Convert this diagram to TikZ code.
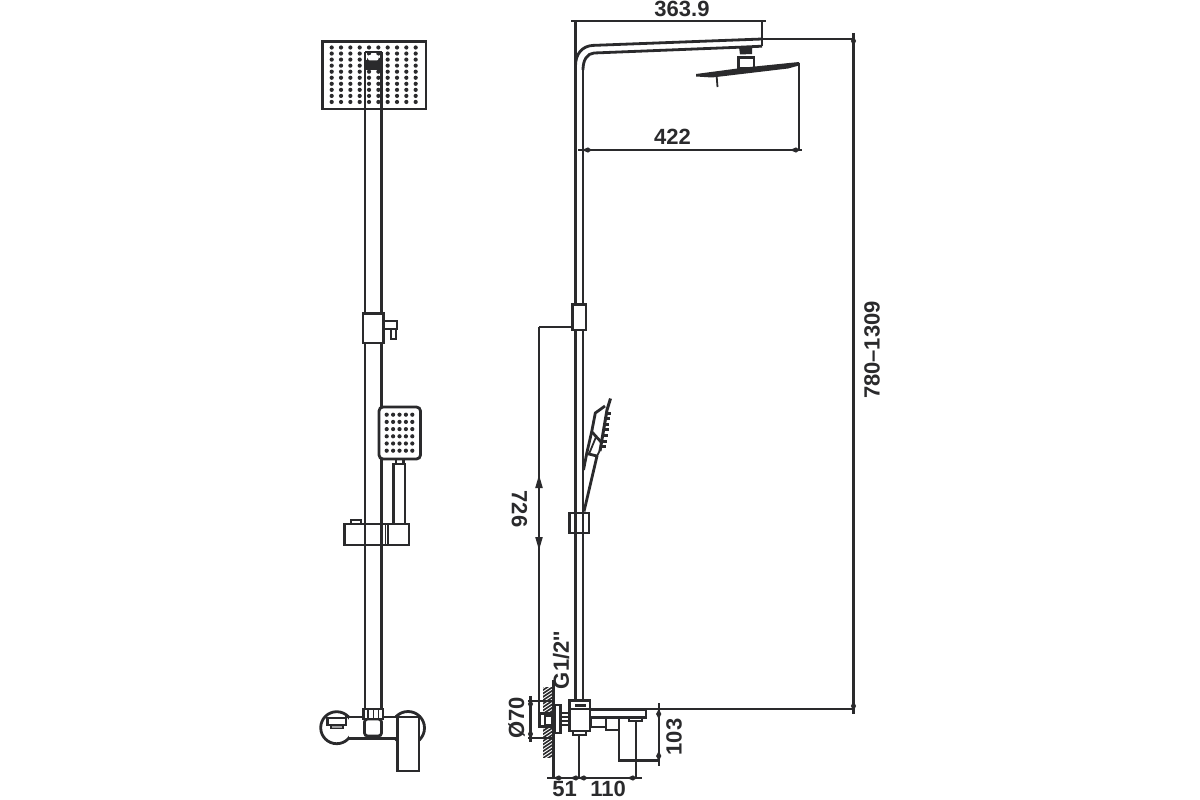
\documentclass[tikz,border=0pt]{standalone}
\usepackage{fontspec}
\setmainfont{Liberation Sans}
\tikzset{
  part/.style={draw=ink,line width=2.8pt,line join=miter,fill=white},
  ln/.style={draw=ink,line width=2.8pt},
  thin/.style={draw=ink,line width=1.8pt},
  dim/.style={draw=ink,line width=2.1pt},
  lab/.style={font=\bfseries\fontsize{22}{22}\selectfont,text=ink,inner sep=0pt}
}
\definecolor{ink}{HTML}{2A2A2C}
\newcommand{\arrU}[2]{\fill[ink] (#1,#2) -- (#1-3.8,#2+13) -- (#1+3.8,#2+13) -- cycle;}
\newcommand{\arrD}[2]{\fill[ink] (#1,#2) -- (#1-3.8,#2-13) -- (#1+3.8,#2-13) -- cycle;}
\newcommand{\tickH}[2]{\fill[ink] (#1-5,#2) -- (#1+1,#2-2.6) -- (#1+5,#2) -- (#1+1,#2+2.6) -- cycle;}
\newcommand{\tickV}[2]{\fill[ink] (#1,#2-5) -- (#1-2.6,#2) -- (#1,#2+5) -- (#1+2.6,#2) -- cycle;}
\begin{document}
\begin{tikzpicture}[x=1pt,y=-1pt]
\useasboundingbox (0,0) rectangle (1200,800);
\fill[white] (0,0) rectangle (1200,800);

%% ---- front view ----
% overhead shower
\draw[part] (322.5,41.5) rectangle (426,109);
\foreach \i in {0,...,9} \foreach \j in {0,...,9} {
  \fill[ink] ({331.7+\i*9.33},{47.5+\j*6.05}) circle (2.1pt);
}
% pole
\draw[ln] (365,52) -- (365,709) (381.5,52) -- (381.5,709);
\draw[ln] (365,52) -- (381.5,52);
\fill[ink] (365,60.5) rectangle (381.5,70);
\fill[white,rounded corners=2pt] (368,55) rectangle (378.5,60.5);
% upper collar
\draw[part] (363,313.5) rectangle (383.5,343);
\draw[part] (384,321) rectangle (397,329);
\draw[part] (391,329) rectangle (396,339);
% slider bracket
\draw[part] (351,520) rectangle (361,524);
\draw[part] (344.5,524) rectangle (409,545);
\draw[ln] (365,524) -- (365,545) (381.5,524) -- (381.5,545);
\draw[thin] (385.5,524) -- (385.5,545) (388,524) -- (388,545);
% hand shower
\draw[part] (393.5,464) rectangle (405,524);
\draw[part] (396,459) rectangle (403.5,464);
\draw[part,rounded corners=4pt] (379,407) rectangle (420.5,459);
\foreach \i in {0,...,4} \foreach \j in {0,...,5} {
  \fill[ink] ({386.7+\i*6.4},{414.7+\j*7.2}) circle (2.1pt);
}
% mixer
\draw[ln] (336.7,727.7) circle (16);
\draw[ln] (408,728) circle (16.5);
\fill[white] (349,718) rectangle (397,738);
\draw[ln] (345,717) -- (397,717) (348,738.5) -- (397,738.5);
\draw[part] (327.5,718) rectangle (346,725);
\draw[thin,fill=ink!45] (331,725) rectangle (343,728.5);
\draw[part,rounded corners=3pt] (364.5,719) rectangle (381.5,736);
\draw[part] (363.5,709) rectangle (383,719);
\draw[thin] (368,709) -- (368,719) (373.5,709) -- (373.5,719) (378.5,709) -- (378.5,719);
\draw[part] (397.5,717) rectangle (419,771);

%% ---- side view ----
% pole and arm
\draw[ln] (575.5,20.5) -- (575.5,66) .. controls (575.5,54) and (582,46) .. (593,45.4) -- (762,39);
\draw[ln] (583,70) .. controls (583,60) and (587,53.5) .. (594,53) -- (740,47.2) -- (762,46.2);
\draw[ln] (575.5,66) -- (575.5,712) (583,70) -- (583,712);
\draw[ln] (762,20.7) -- (762,46.2);
% shower head
\fill[ink] (739,47) -- (752,46.5) -- (752,54) -- (740,54.5) -- cycle;
\draw[part] (738.5,57.5) rectangle (754,68);
\fill[ink] (696,74) -- (745,67.5) -- (799,62) -- (799,65.5) -- (788,68.5) -- (712,77.5) -- (696,76.5) -- cycle;
\draw[thin] (716.7,77) -- (717.5,87);
% upper collar
\draw[part] (572.5,304.5) rectangle (586,330);
% hand shower side view
\draw[ln,line join=round] (605,406) -- (595.3,413) -- (591.7,431.7) -- (602,443);
\draw[ln,line join=round] (591.7,431.7) -- (586.7,453.5) -- (597,456) -- (584,511.5);
\draw[thin] (596,437) -- (589,454);
\draw[thin] (600,450) -- (597,456);
\draw[ln] (586.7,453.5) -- (583.5,470);
\draw[ln,line width=3pt] (610.5,398.5) -- (607,410) -- (600,451);
\foreach \t in {0.08,0.22,0.36,0.5,0.64,0.78,0.92}{
  \fill[ink] ({607.5-7*\t},{410+40*\t-1.6}) rectangle ++(4.5,3);
}
\draw[part] (569.5,513) rectangle (589,533);
\draw[ln] (575.5,513) -- (575.5,533) (583,513) -- (583,533);

% wall hatching
\begin{scope}
\clip (543,687) rectangle (553,757);
\foreach \k in {0,...,24}{
  \draw[ink,line width=1.6pt] (541,{688+\k*3.4}) -- (556,{688+\k*3.4-10});
}
\end{scope}
% mixer side
\draw[part] (554.5,705) rectangle (560.5,733);
\draw[part] (560.5,713) rectangle (569.5,725);
\draw[thin] (560.5,717) -- (569.5,717) (560.5,721) -- (569.5,721);
\draw[part] (539.5,713.5) rectangle (552.5,726.5);
\draw[part] (545,715.5) rectangle (552.5,725);
\draw[part] (569.5,700.5) rectangle (590,709);
\fill[ink] (575,703.5) rectangle (586,706.5);
\draw[part] (569.5,709) rectangle (590,731);
\draw[part] (573,731) rectangle (586,735);
\draw[ln] (590,709.3) -- (646,709.3) -- (646,717.7) -- (619,717.7);
\draw[part] (590.5,717.7) rectangle (606,727);
\draw[part] (606,717.7) rectangle (619,730);
\draw[part] (629,717.7) rectangle (642,721);

%% ---- dimensions ----
% 363.9
\draw[dim] (571,20.7) -- (766,20.7);
\node[lab] (d1) at (682,9) {363.9};
% 422
\draw[dim] (578,150) -- (802,150);
\draw[dim] (798.7,63) -- (798.7,150);
\tickH{587}{150}\tickH{795}{150}
\node[lab] (d2) at (672.5,137) {422};
% 780-1309
\draw[dim] (762,38.7) -- (853.5,38.7);
\draw[dim] (646,709.3) -- (853.5,709.3);
\draw[dim] (853.5,33) -- (853.5,714);
\tickV{853.5}{41}\tickV{853.5}{706}
\node[lab,rotate=90] (d3) at (872,350) {780--1309};
% 726
\draw[dim] (539,327) -- (574,327);
\draw[dim] (539,327) -- (539,713);
\arrU{539}{475}\arrD{539}{550}
\node[lab,rotate=-90] (d4) at (519.5,509) {726};
% G1/2
\node[lab,rotate=90] (d5) at (561,660) {G1/2\textquotesingle\textquotesingle};
% O70
\draw[dim] (528,700.7) -- (553,700.7) (528,737.7) -- (553,737.7);
\draw[dim] (530.5,696) -- (530.5,742);
\tickV{530.5}{704}\tickV{530.5}{734}
\node[lab,rotate=90] (d6) at (516.5,718) {Ø70};
% bottom
\draw[ln] (553.5,680) -- (553.5,778);
\draw[ln] (579,735) -- (579,778);
\draw[ln] (636,721) -- (636,778);
\draw[dim] (547,778) -- (642,778);
\tickH{558}{778}\tickH{575}{778}\tickH{583}{778}\tickH{632}{778}
\node[lab] (d7) at (564.5,789) {51};
\node[lab] (d8) at (608,789) {110};
% 103
\draw[ln] (619,730) -- (619,760.7) -- (659,760.7);
\draw[dim] (658.7,703) -- (658.7,766);
\tickV{658.7}{714}\tickV{658.7}{756}
\node[lab,rotate=90] (d9) at (674,737) {103};
\end{tikzpicture}
\end{document}
